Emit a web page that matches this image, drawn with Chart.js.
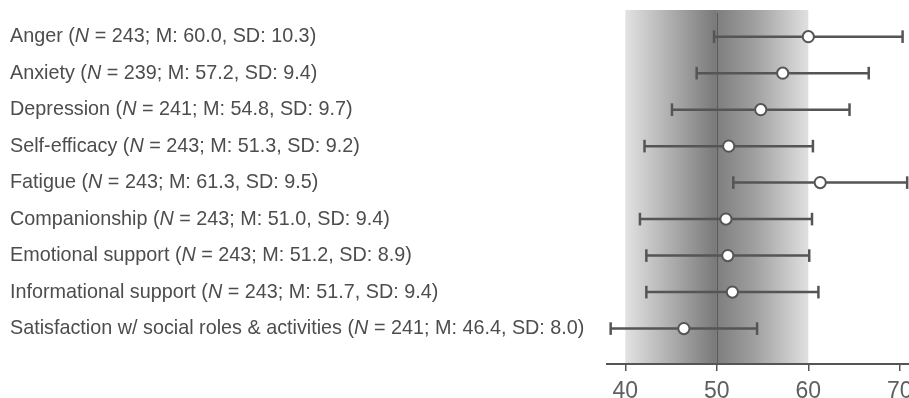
<!DOCTYPE html>
<html>
<head>
<meta charset="utf-8">
<title>PROMIS scores</title>
<script src="https://cdn.jsdelivr.net/npm/chart.js@4/dist/chart.umd.min.js"></script>
<style>
  html, body { margin: 0; padding: 0; background: #ffffff; }
  #wrap { position: relative; width: 909px; height: 398px; }
</style>
</head>
<body>
<div id="wrap"><canvas id="chart"></canvas></div>
<script>
// Measures, sample sizes, means and standard deviations (T-scores)
const measures = [
  'Anger',
  'Anxiety',
  'Depression',
  'Self-efficacy',
  'Fatigue',
  'Companionship',
  'Emotional support',
  'Informational support',
  'Satisfaction w/ social roles & activities'
];
const sampleSizes = [243, 239, 241, 243, 243, 243, 243, 243, 241];
const means = [60.0, 57.2, 54.8, 51.3, 61.3, 51.0, 51.2, 51.7, 46.4];
const sds = [10.3, 9.4, 9.7, 9.2, 9.5, 9.4, 8.9, 9.4, 8.0];

// Axis ticks and the reference range (population mean 50, ±1 SD)
const xTicks = [40, 50, 60, 70];
const referenceBand = [40, 60];
const referenceMean = 50;

const INK = '#555555';
const TEXT = '#4d4d4d';
const FAMILY = '"Liberation Sans", Arial, Helvetica, sans-serif';

// Mean markers
const meanPoints = {
  label: 'Mean',
  data: means.map((m, i) => ({ x: m, y: i })),
  pointStyle: 'circle',
  pointRadius: 5.6,
  pointBackgroundColor: '#ffffff',
  pointBorderColor: INK,
  pointBorderWidth: 2,
  showLine: false,
  clip: false
};

// Mean ± SD whiskers, one dataset per measure, capped with vertical line points
const whiskers = means.map((m, i) => ({
  label: measures[i],
  data: [{ x: m - sds[i], y: i }, { x: m + sds[i], y: i }],
  showLine: true,
  borderColor: INK,
  borderWidth: 2.5,
  pointStyle: 'line',
  rotation: 90,
  pointRadius: 6.3,
  pointBorderColor: INK,
  pointBorderWidth: 2.5,
  clip: false
}));

// Shaded reference band with a darker centre, plus the line at the mean
const referencePlugin = {
  id: 'referenceBand',
  beforeDraw(chart) {
    const { ctx, chartArea, scales } = chart;
    const x0 = scales.x.getPixelForValue(referenceBand[0]);
    const x1 = scales.x.getPixelForValue(referenceBand[1]);
    const g = ctx.createLinearGradient(x0, 0, x1, 0);
    g.addColorStop(0.00, '#e2e2e2');
    g.addColorStop(0.12, '#c9c9c9');
    g.addColorStop(0.30, '#a3a3a3');
    g.addColorStop(0.49, '#7a7a7a');
    g.addColorStop(0.51, '#808080');
    g.addColorStop(0.70, '#9e9e9e');
    g.addColorStop(0.88, '#c6c6c6');
    g.addColorStop(1.00, '#e0e0e0');
    ctx.save();
    ctx.fillStyle = g;
    ctx.fillRect(x0, chartArea.top, x1 - x0, chartArea.bottom - chartArea.top);
    const xm = Math.round(scales.x.getPixelForValue(referenceMean)) + 0.5;
    ctx.strokeStyle = '#5a5a5a';
    ctx.lineWidth = 1;
    ctx.beginPath();
    ctx.moveTo(xm, chartArea.top + 3);
    ctx.lineTo(xm, chartArea.bottom);
    ctx.stroke();
    ctx.restore();
  }
};

// Row labels with an italic N
const rowLabelPlugin = {
  id: 'rowLabels',
  afterDraw(chart) {
    const { ctx, scales } = chart;
    const size = 19.8;
    ctx.save();
    ctx.fillStyle = TEXT;
    ctx.textBaseline = 'middle';
    ctx.textAlign = 'left';
    measures.forEach((name, i) => {
      const y = scales.y.getPixelForValue(i);
      const parts = [
        { t: name + ' (', italic: false },
        { t: 'N', italic: true },
        { t: ' = ' + sampleSizes[i] + '; M: ' + means[i].toFixed(1) + ', SD: ' + sds[i].toFixed(1) + ')', italic: false }
      ];
      let x = 10;
      parts.forEach(p => {
        ctx.font = (p.italic ? 'italic ' : '') + size + 'px ' + FAMILY;
        ctx.fillText(p.t, x, y);
        x += ctx.measureText(p.t).width;
      });
    });
    ctx.restore();
  }
};

new Chart(document.getElementById('chart'), {
  type: 'scatter',
  data: { datasets: [meanPoints, ...whiskers] },
  plugins: [referencePlugin, rowLabelPlugin],
  options: {
    responsive: true,
    maintainAspectRatio: false,
    animation: false,
    events: [],
    layout: { autoPadding: false, padding: { left: 607, top: 10, right: 0, bottom: 0 } },
    plugins: { legend: { display: false }, tooltip: { enabled: false } },
    scales: {
      x: {
        type: 'linear',
        min: 38,
        max: 71,
        afterBuildTicks(scale) {
          scale.ticks = xTicks.map(v => ({ value: v }));
        },
        afterFit(scale) {
          scale.paddingLeft = 0;
          scale.paddingRight = 0;
          scale.height = 34;
        },
        border: { display: true, color: INK, width: 2 },
        grid: { drawOnChartArea: false, drawTicks: true, tickLength: 7, color: INK, lineWidth: 1.5 },
        ticks: {
          color: '#5f5f5f',
          padding: 7,
          maxRotation: 0,
          autoSkip: false,
          font: { family: FAMILY, size: 23 }
        }
      },
      y: {
        type: 'linear',
        display: false,
        reverse: true,
        min: -0.73,
        max: 8.97
      }
    }
  }
});
</script>
</body>
</html>
